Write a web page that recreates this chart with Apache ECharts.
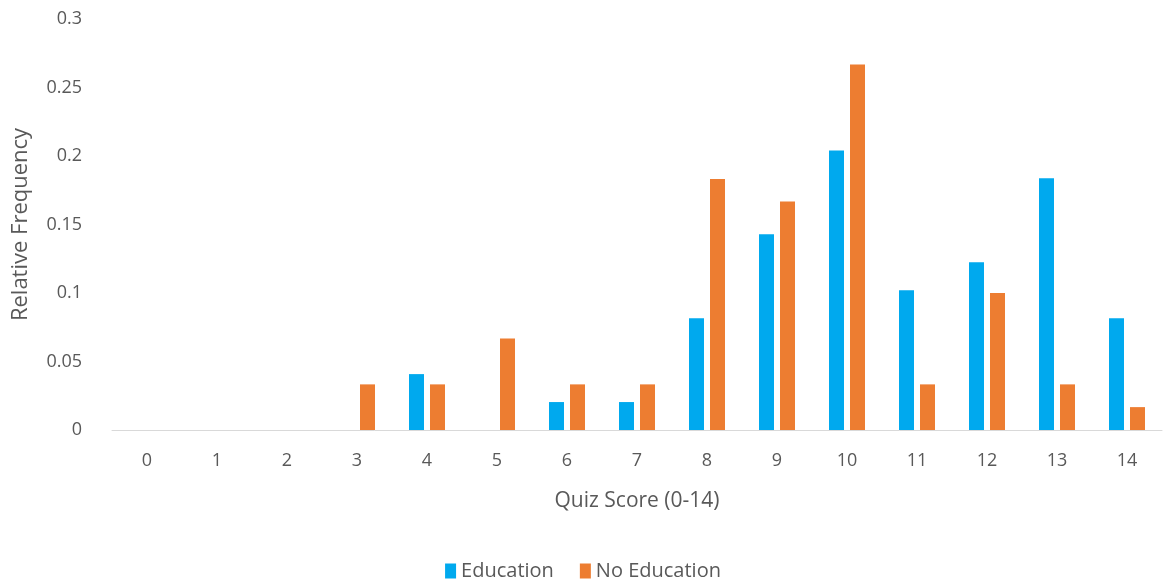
<!DOCTYPE html>
<html>
<head>
<meta charset="utf-8">
<title>Quiz Score Relative Frequency</title>
<script src="https://cdn.jsdelivr.net/npm/echarts@6/dist/echarts.min.js"></script>
<style>
  html, body { margin: 0; padding: 0; background: #fff; }
  #chart { width: 1166px; height: 581px; }
</style>
</head>
<body>
<div id="chart"></div>
<script>
// quiz scores 0..14
const scores = ['0', '1', '2', '3', '4', '5', '6', '7', '8', '9', '10', '11', '12', '13', '14'];

// relative frequencies
const education = [0, 0, 0, 0, 0.0408, 0, 0.0204, 0.0204, 0.0816, 0.1429, 0.2041, 0.102, 0.1224, 0.1837, 0.0816];
const noEducation = [0, 0, 0, 0.0333, 0.0333, 0.0667, 0.0333, 0.0333, 0.1833, 0.1667, 0.2667, 0.0333, 0.1, 0.0333, 0.0167];

const yTicks = { min: 0, max: 0.3, step: 0.05 };

const FONT = '"Open Sans", "Noto Sans", sans-serif';
const TEXT = '#595959';

const chart = echarts.init(document.getElementById('chart'));

chart.setOption({
  animation: false,
  textStyle: { fontFamily: FONT, color: TEXT },
  grid: { left: 112, right: 4, top: 19, bottom: 151 },
  legend: {
    top: 556,
    left: 'center',
    itemWidth: 11,
    itemHeight: 15,
    itemGap: 26,
    icon: 'rect',
    textStyle: { fontFamily: FONT, fontSize: 20, color: TEXT },
    data: ['Education', 'No Education']
  },
  xAxis: {
    type: 'category',
    data: scores,
    name: 'Quiz Score (0-14)',
    nameLocation: 'middle',
    nameGap: 61,
    nameTextStyle: { fontFamily: FONT, fontSize: 21, color: TEXT },
    axisTick: { show: false },
    axisLine: { lineStyle: { color: '#d9d9d9', width: 1 } },
    axisLabel: { fontFamily: FONT, fontSize: 18, color: TEXT, margin: 22 }
  },
  yAxis: {
    type: 'value',
    min: yTicks.min,
    max: yTicks.max,
    interval: yTicks.step,
    name: 'Relative Frequency',
    nameLocation: 'middle',
    nameGap: 80,
    nameRotate: 90,
    nameTextStyle: { fontFamily: FONT, fontSize: 22, color: TEXT },
    splitLine: { show: false },
    axisLine: { show: false },
    axisTick: { show: false },
    axisLabel: { fontFamily: FONT, fontSize: 18, color: TEXT, margin: 30 }
  },
  series: [
    {
      name: 'Education',
      type: 'bar',
      data: education,
      barWidth: 15,
      barGap: '40%',
      itemStyle: { color: '#00A9EE' }
    },
    {
      name: 'No Education',
      type: 'bar',
      data: noEducation,
      barWidth: 15,
      barGap: '40%',
      itemStyle: { color: '#ED7D31' }
    }
  ]
});

window.addEventListener('resize', () => {
  chart.resize();
});
</script>
</body>
</html>
